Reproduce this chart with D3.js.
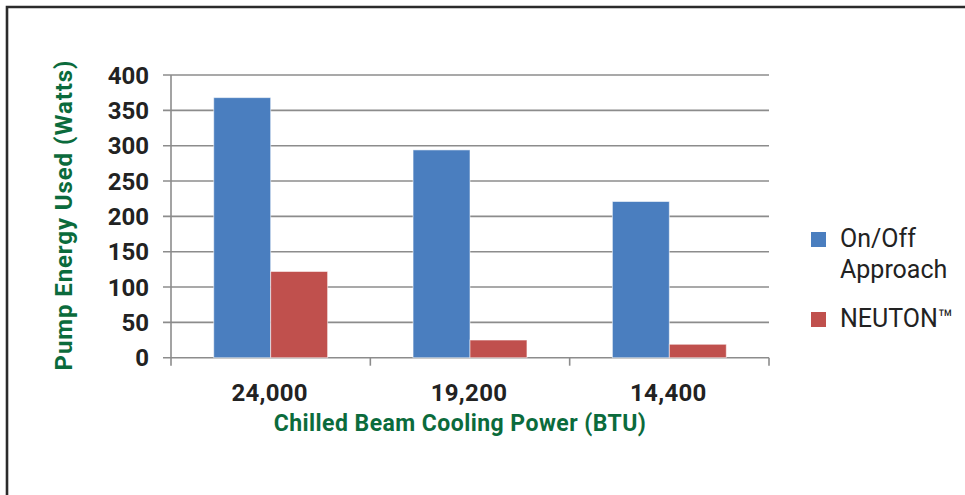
<!DOCTYPE html>
<html><head><meta charset="utf-8">
<script src="https://cdn.jsdelivr.net/npm/d3@7"></script>
<style>
html,body{margin:0;padding:0;background:#fff;}
svg{display:block;}
</style></head>
<body>
<svg id="chart" width="965" height="495"></svg>
<script>
const categories = ["24,000", "19,200", "14,400"];
const seriesNames = ["On/Off Approach", "NEUTON™"];
const onOffValues = [368, 294, 221];
const neutonValues = [122, 25, 19];
const yTicks = [0, 50, 100, 150, 200, 250, 300, 350, 400];
const colors = ["#4a7ebf", "#c0504d"];

const data = categories.map((c, i) => ({cat: c, vals: [onOffValues[i], neutonValues[i]]}));

const svg = d3.select("#chart");
const W = 965, H = 495;
const plotLeft = 171, plotRight = 769, plotTop = 75, plotBottom = 357.7;

// frame border (top and left)
svg.append("path").attr("d", `M7,${H} V7 H${W}`)
  .attr("fill", "none").attr("stroke", "#2b2b2b").attr("stroke-width", 2.6);

const x0 = d3.scaleBand().domain(categories).range([plotLeft, plotRight]).padding(0);
const bw = x0.bandwidth();
const x1 = d3.scaleBand().domain(seriesNames).range([bw * 0.2143, bw * 0.7857]).padding(0);
const y = d3.scaleLinear().domain([0, 400]).range([plotBottom, plotTop]);

const labelFont = "Roboto, 'DejaVu Sans', sans-serif";

// gridlines
svg.append("g").selectAll("line").data(yTicks).join("line")
  .attr("x1", plotLeft - 8).attr("x2", plotRight)
  .attr("y1", d => y(d)).attr("y2", d => y(d))
  .attr("stroke", "#8c8c8c").attr("stroke-width", 1.6);

// y axis line
svg.append("line").attr("x1", plotLeft).attr("x2", plotLeft).attr("y1", plotTop).attr("y2", plotBottom + 8)
  .attr("stroke", "#8c8c8c").attr("stroke-width", 1.6);

// x axis category boundary ticks
const bounds = categories.map(c => x0(c)).concat([x0(categories[categories.length - 1]) + bw]);
svg.append("g").selectAll("line").data(bounds.slice(1)).join("line")
  .attr("x1", d => d).attr("x2", d => d).attr("y1", plotBottom).attr("y2", plotBottom + 8)
  .attr("stroke", "#8c8c8c").attr("stroke-width", 1.6);

// y tick labels
svg.append("g").selectAll("text").data(yTicks).join("text")
  .attr("x", 149).attr("y", d => y(d)).attr("dy", "0.36em")
  .attr("text-anchor", "end")
  .attr("font-family", labelFont).attr("font-weight", 700).attr("font-size", 24)
  .attr("fill", "#222").text(d => d);

// bars
const groups = svg.append("g").selectAll("g").data(data).join("g")
  .attr("transform", d => `translate(${x0(d.cat)},0)`);
groups.selectAll("rect").data(d => d.vals.map((v, i) => ({v, s: seriesNames[i], i}))).join("rect")
  .attr("x", d => x1(d.s)).attr("width", x1.bandwidth())
  .attr("y", d => y(d.v)).attr("height", d => y(0) - y(d.v))
  .attr("fill", d => colors[d.i])
  .attr("stroke", "rgba(255,255,255,0.55)").attr("stroke-width", 1);

// x tick labels
svg.append("g").selectAll("text").data(categories).join("text")
  .attr("x", d => x0(d) + bw / 2 - 1).attr("y", 400.5)
  .attr("text-anchor", "middle")
  .attr("font-family", labelFont).attr("font-weight", 700).attr("font-size", 24)
  .attr("letter-spacing", 0.3)
  .attr("fill", "#222").text(d => d);

// x axis title
svg.append("text").attr("x", 460).attr("y", 431)
  .attr("text-anchor", "middle")
  .attr("font-family", labelFont).attr("font-weight", 700).attr("font-size", 23)
  .attr("letter-spacing", 0.45)
  .attr("fill", "#0b6b3c").text("Chilled Beam Cooling Power (BTU)");

// y axis title
svg.append("text").attr("transform", "translate(72,215) rotate(-90)")
  .attr("text-anchor", "middle")
  .attr("font-family", labelFont).attr("font-weight", 700).attr("font-size", 24)
  .attr("letter-spacing", 0.9)
  .attr("fill", "#0b6b3c").text("Pump Energy Used (Watts)");

// legend
const legend = svg.append("g");
const legendItems = [
  {lines: ["On/Off", "Approach"], color: colors[0], sq: 232},
  {lines: ["NEUTON™"], color: colors[1], sq: 312}
];
legendItems.forEach(it => {
  legend.append("rect").attr("x", 811).attr("y", it.sq).attr("width", 15).attr("height", 15).attr("fill", it.color);
  it.lines.forEach((t, j) => {
    legend.append("text").attr("x", 840).attr("y", it.sq + 15 + j * 30.5)
      .attr("font-family", labelFont).attr("font-size", 25).attr("fill", "#222").text(t);
  });
});
</script>
</body></html>
